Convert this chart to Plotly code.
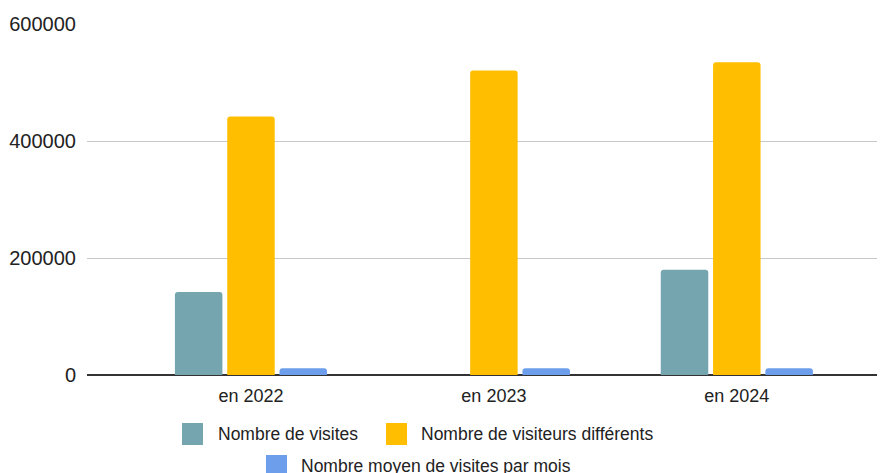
import plotly.graph_objects as go

categories = ["en 2022", "en 2023", "en 2024"]
nombre_visites = [142000, None, 180000]
nombre_visiteurs = [442000, 520500, 534500]
nombre_moyen = [11500, 11500, 11500]
series_names = ["Nombre de visites", "Nombre de visiteurs différents",
                "Nombre moyen de visites par mois"]
series_colors = ["#75A6AF", "#FFBF00", "#6D9EEB"]
y_ticks = [0, 200000, 400000, 600000]
y_ticklabels = ["0", "200000", "400000", "600000"]

# The page body adds an 8px offset; the figure is sized to fill the rest.
OFF = 8
W, H = 885 - OFF, 473 - OFF
L, R, T, B = 87 - OFF, 0, 24 - OFF, 98
PW, PH = W - L - R, H - T - B

def px_x(px):
    return (px - OFF - L) / PW

def px_y(py):
    return (H - B - (py - OFF)) / PH

FONT = "Liberation Sans, Arial, Helvetica, sans-serif"

fig = go.Figure()
for name, vals, col in zip(series_names,
                           [nombre_visites, nombre_visiteurs, nombre_moyen],
                           series_colors):
    fig.add_trace(go.Bar(x=categories, y=vals, name=name,
                         marker=dict(color=col, line=dict(width=0)),
                         showlegend=False, hoverinfo="x+y+name"))

# Manual legend (larger swatches like the original)
legend_items = [
    (0, 182, 434, 216),
    (1, 386, 434, 419),
    (2, 266, 466, 299),
]
shapes = []
annotations = []
for idx, sx, cy, tx in legend_items:
    shapes.append(dict(type="rect", xref="paper", yref="paper",
                       x0=px_x(sx), x1=px_x(sx + 21),
                       y0=px_y(cy - 11), y1=px_y(cy + 11),
                       fillcolor=series_colors[idx], line=dict(width=0),
                       layer="above"))
    annotations.append(dict(xref="paper", yref="paper", x=px_x(tx), y=px_y(cy),
                            xanchor="left", yanchor="middle", showarrow=False,
                            text=series_names[idx],
                            font=dict(family=FONT, size=17.5, color="#222222")))

fig.update_layout(
    width=W, height=H,
    margin=dict(l=L, r=R, t=T, b=B, autoexpand=False),
    paper_bgcolor="white", plot_bgcolor="white",
    barmode="group", bargap=0.354, bargroupgap=0.092,
    barcornerradius=3,
    font=dict(family=FONT, size=18, color="#222222"),
    shapes=shapes, annotations=annotations,
    showlegend=False,
)
fig.update_xaxes(
    range=[-0.675, 2.61], showgrid=False, showline=False, zeroline=False,
    ticks="", ticklabelstandoff=8,
    tickfont=dict(family=FONT, size=18, color="#222222"),
    fixedrange=True,
)
fig.update_yaxes(
    range=[0, 600000], tickvals=y_ticks, ticktext=y_ticklabels,
    showgrid=True, gridcolor="#C8C8C8", gridwidth=1.3,
    zeroline=True, zerolinecolor="#333333", zerolinewidth=2,
    showline=False, ticks="", ticklabelstandoff=10,
    tickfont=dict(family=FONT, size=20, color="#222222"),
    fixedrange=True,
)

fig.write_html("out.html", include_plotlyjs=True, config={"displayModeBar": False})
